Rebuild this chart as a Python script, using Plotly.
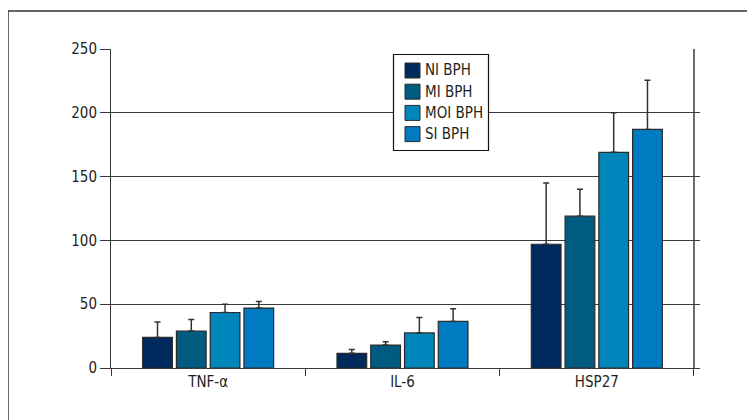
import plotly.graph_objects as go

categories = ["TNF-α", "IL-6", "HSP27"]
series_names = ["NI BPH", "MI BPH", "MOI BPH", "SI BPH"]
ni_bph = [24, 11.5, 97]
mi_bph = [29, 18, 119]
moi_bph = [43.5, 27.5, 169]
si_bph = [47, 36.5, 187]
ni_err = [12, 3, 48]
mi_err = [9, 2.5, 21]
moi_err = [6.5, 12, 31]
si_err = [5.2, 10, 38.5]
y_ticks = [0, 50, 100, 150, 200, 250]

colors = ["#002a5e", "#005b80", "#0086bb", "#007bc2"]
values = [ni_bph, mi_bph, moi_bph, si_bph]
errors = [ni_err, mi_err, moi_err, si_err]

FONT = "DejaVu Sans Condensed, Liberation Sans Narrow, Arial Narrow, sans-serif"
INK = "#231f20"
GRID = "#3a3a3a"

# figure geometry (page adds an 8px body margin)
W, H = 747, 412
ML, MR, MT, MB = 103, 55, 41, 52
PW, PH = W - ML - MR, H - MT - MB


def px(xp):
    return (xp - 8 - ML) / PW


def py(yp):
    return (H - MB - (yp - 8)) / PH


fig = go.Figure()
for name, vals, errs, col in zip(series_names, values, errors, colors):
    fig.add_trace(go.Bar(
        name=name, x=categories, y=vals, showlegend=False,
        marker=dict(color=col, line=dict(color="#2a2a2a", width=1.2)),
        error_y=dict(type="data", symmetric=False, array=errs,
                     arrayminus=[0] * len(errs), color="#333333",
                     thickness=1.5, width=3),
    ))

shapes = [
    dict(type="line", xref="x", yref="y", x0=2.5, x1=2.5, y0=0, y1=250,
         line=dict(color=GRID, width=1.5), layer="below"),
    dict(type="line", xref="paper", yref="paper", x0=px(8), x1=px(755),
         y0=py(11), y1=py(11), line=dict(color="#333333", width=1.5)),
    dict(type="line", xref="paper", yref="paper", x0=px(8), x1=px(8),
         y0=py(11), y1=py(420), line=dict(color="#333333", width=1.5)),
    # legend box
    dict(type="rect", xref="paper", yref="paper", x0=px(393.5), x1=px(488.5),
         y0=py(54.5), y1=py(150.5), fillcolor="white",
         line=dict(color="#111111", width=1.2), layer="above"),
]
annotations = []
row_centers = [70.5, 91.7, 112.9, 134.1]
for name, col, yc in zip(series_names, colors, row_centers):
    shapes.append(dict(type="rect", xref="paper", yref="paper",
                       x0=px(405), x1=px(420), y0=py(yc + 7.5), y1=py(yc - 7.5),
                       fillcolor=col, line=dict(color="#2a2a2a", width=1),
                       layer="above"))
    annotations.append(dict(text=name, xref="paper", yref="paper",
                            x=px(422.5), y=py(yc), xanchor="left", yanchor="middle",
                            showarrow=False,
                            font=dict(family=FONT, size=15, color=INK)))

fig.update_layout(
    width=W, height=H,
    margin=dict(l=ML, r=MR, t=MT, b=MB),
    paper_bgcolor="white", plot_bgcolor="white",
    barmode="group", bargap=0.305, bargroupgap=0.12,
    font=dict(family=FONT, size=15, color=INK),
    showlegend=False,
    xaxis=dict(range=[-0.5, 2.531], showgrid=False, showline=True,
               linecolor=GRID, linewidth=1, ticks="outside", ticklen=7,
               tickcolor=GRID, tickson="boundaries",
               tickfont=dict(family=FONT, size=15, color=INK), zeroline=False),
    yaxis=dict(range=[0, 250], tickvals=y_ticks, showgrid=True, gridcolor=GRID,
               gridwidth=1, showline=True, linecolor=GRID, linewidth=1,
               ticks="outside", ticklen=10, tickcolor=GRID, zeroline=False,
               tickfont=dict(family=FONT, size=15, color=INK)),
    shapes=shapes,
    annotations=annotations,
)

fig.write_html("out.html")
